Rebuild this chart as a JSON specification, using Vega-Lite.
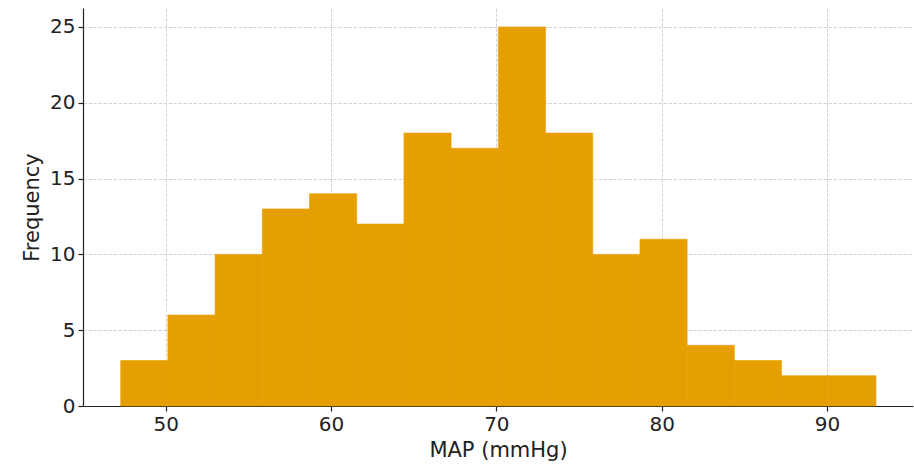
{
  "$schema": "https://vega.github.io/schema/vega-lite/v6.json",
  "autosize": {"type": "none"},
  "width": 830,
  "height": 398,
  "padding": {"left": 83, "top": 8, "right": 1, "bottom": 68},
  "background": "white",
  "config": {
    "font": "DejaVu Sans",
    "view": {"stroke": null},
    "axis": {
      "labelFont": "DejaVu Sans",
      "titleFont": "DejaVu Sans",
      "labelFontSize": 20,
      "titleFontSize": 21,
      "titleFontWeight": "normal",
      "labelColor": "#222222",
      "titleColor": "#222222",
      "domainColor": "#222222",
      "domainWidth": 1.2,
      "tickColor": "#222222",
      "tickSize": 5,
      "tickWidth": 1.2,
      "labelPadding": 3,
      "gridColor": "#b0b0b0",
      "gridOpacity": 0.55,
      "gridDash": [3.5, 1.5],
      "gridWidth": 1,
      "zindex": 1
    }
  },
  "data": {
    "values": [
      {"bin_start": 47.28, "bin_end": 50.135, "count": 3},
      {"bin_start": 50.135, "bin_end": 52.99, "count": 6},
      {"bin_start": 52.99, "bin_end": 55.845, "count": 10},
      {"bin_start": 55.845, "bin_end": 58.7, "count": 13},
      {"bin_start": 58.7, "bin_end": 61.555, "count": 14},
      {"bin_start": 61.555, "bin_end": 64.41, "count": 12},
      {"bin_start": 64.41, "bin_end": 67.265, "count": 18},
      {"bin_start": 67.265, "bin_end": 70.12, "count": 17},
      {"bin_start": 70.12, "bin_end": 72.975, "count": 25},
      {"bin_start": 72.975, "bin_end": 75.83, "count": 18},
      {"bin_start": 75.83, "bin_end": 78.685, "count": 10},
      {"bin_start": 78.685, "bin_end": 81.54, "count": 11},
      {"bin_start": 81.54, "bin_end": 84.395, "count": 4},
      {"bin_start": 84.395, "bin_end": 87.25, "count": 3},
      {"bin_start": 87.25, "bin_end": 90.105, "count": 2},
      {"bin_start": 90.105, "bin_end": 92.96, "count": 2}
    ]
  },
  "mark": {"type": "rect", "color": "#E69F00", "stroke": "#E69F00", "strokeWidth": 0.6},
  "encoding": {
    "x": {
      "field": "bin_start",
      "type": "quantitative",
      "scale": {"domain": [45.0, 95.2], "nice": false, "zero": false},
      "axis": {"values": [50, 60, 70, 80, 90], "title": "MAP (mmHg)", "titlePadding": 5, "grid": true}
    },
    "x2": {"field": "bin_end"},
    "y": {
      "field": "count",
      "type": "quantitative",
      "scale": {"domain": [0, 26.25], "nice": false},
      "axis": {"values": [0, 5, 10, 15, 20, 25], "title": "Frequency", "titlePadding": 7, "grid": true}
    },
    "y2": {"datum": 0}
  }
}
